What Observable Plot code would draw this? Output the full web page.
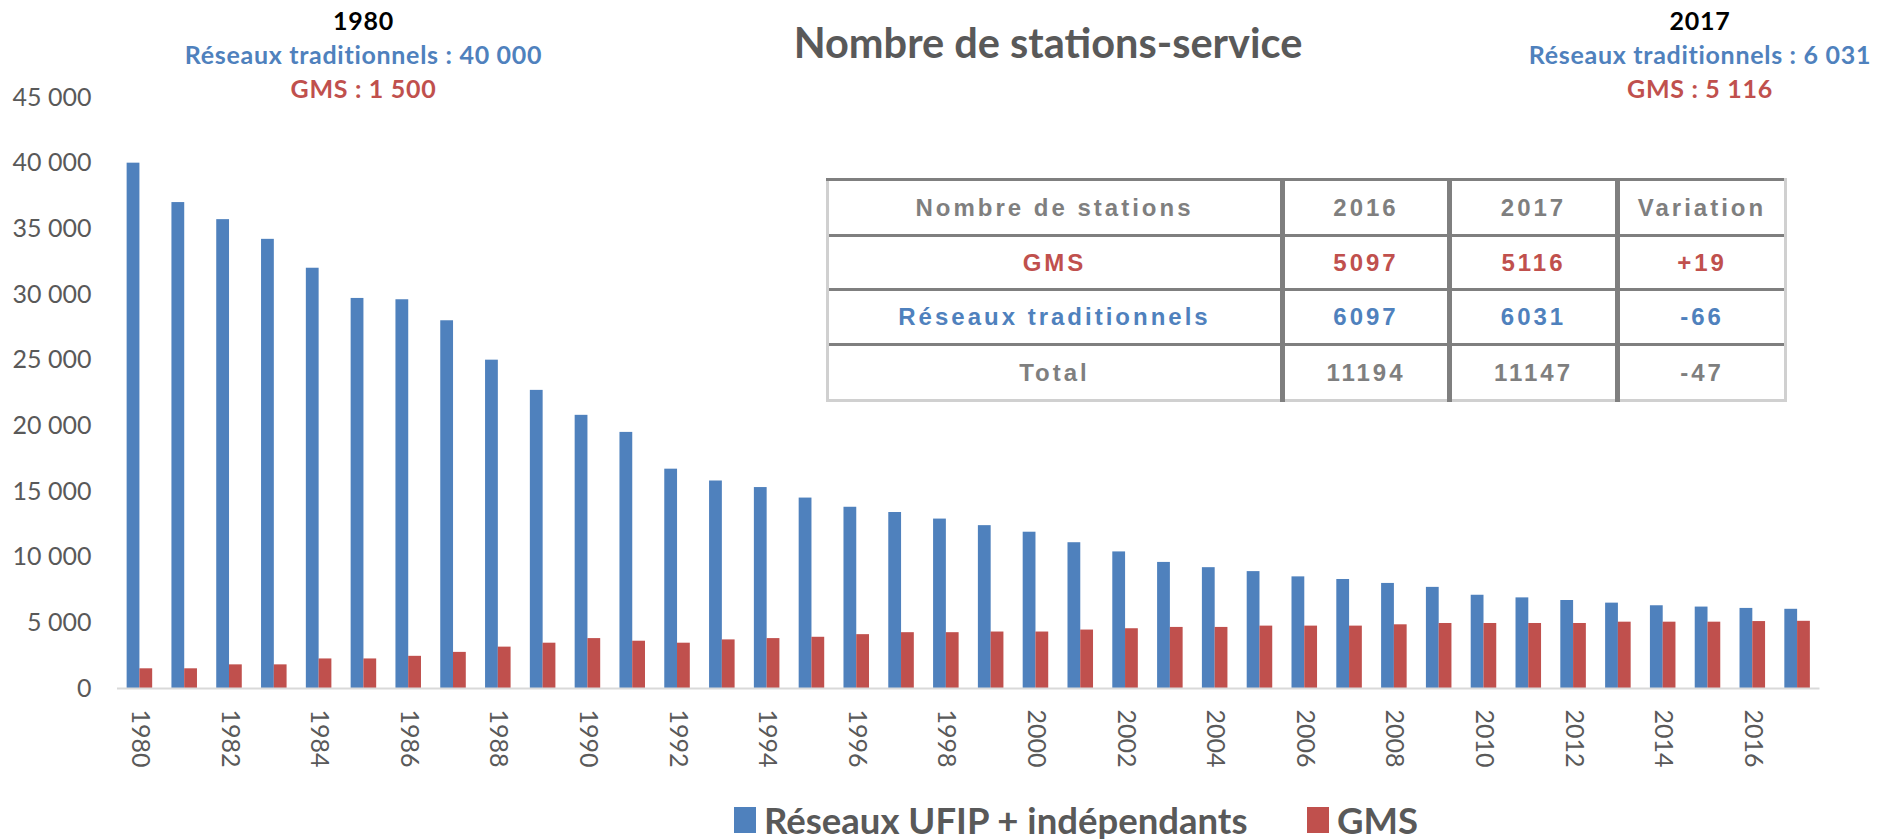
<!DOCTYPE html>
<html lang="fr">
<head>
<meta charset="utf-8">
<script src="https://cdn.jsdelivr.net/npm/d3@7"></script>
<script src="https://cdn.jsdelivr.net/npm/@observablehq/plot@0.6"></script>
<style>
  html, body { margin: 0; padding: 0; background: #fff; overflow: hidden; }
  #wrap { position: relative; width: 1884px; height: 839px; }
  #chart { position: absolute; left: 0; top: 0; }
  .title { position: absolute; left: 648px; top: 18px; width: 800px; text-align: center;
    font-family: Lato, sans-serif; font-weight: 700; font-size: 41.5px; line-height: 48px; color: #595959; }
  .ann { position: absolute; top: 3px; text-align: center; font-family: Lato, sans-serif; font-weight: 700;
    font-size: 25px; letter-spacing: 0.7px; line-height: 34px; white-space: nowrap; }
  .ann .yr { color: #000; }
  .ann .bl { color: #4f81bd; }
  .ann .rd { color: #c0504d; }
  #tbl { position: absolute; left: 826px; top: 178px; width: 958px; height: 221px; border-collapse: collapse;
    table-layout: fixed; font-family: "Liberation Sans", Arial, sans-serif; font-weight: 700; font-size: 24px;
    letter-spacing: 3px; background: #fff; }
  #tbl td { text-align: center; padding: 0; border-left: 5px solid #7f7f7f; border-top: 3px solid #7f7f7f; }
  #tbl tr td:first-child { border-left: 3px solid #d0d0d0; }
  #tbl tr td:last-child { border-right: 3px solid #d0d0d0; }
  #tbl tr:first-child td { border-top: 3px solid #d0d0d0; border-bottom: 6px solid #7f7f7f; }
  #tbl tr:last-child td { border-bottom: 3px solid #d0d0d0; }
  .legend { position: absolute; top: 800px; height: 40px; display: flex; align-items: center;
    font-family: Lato, sans-serif; font-weight: 700; font-size: 36.5px; line-height: 40px; color: #595959; white-space: nowrap; }
  .legend .sw { display: inline-block; width: 22px; height: 26px; margin-right: 8px; }
</style>
</head>
<body>
<div id="wrap">
  <div id="chart"></div>
  <div class="title">Nombre de stations-service</div>
  <div id="annotations"></div>
  <div id="tableHolder"></div>
  <div id="legendHolder"></div>
</div>
<script>
// ---- Data ----
const years = [1980, 1981, 1982, 1983, 1984, 1985, 1986, 1987, 1988, 1989,
               1990, 1991, 1992, 1993, 1994, 1995, 1996, 1997, 1998, 1999,
               2000, 2001, 2002, 2003, 2004, 2005, 2006, 2007, 2008, 2009,
               2010, 2011, 2012, 2013, 2014, 2015, 2016, 2017];
const reseaux = [40000, 37000, 35700, 34200, 32000, 29700, 29600, 28000, 25000, 22700,
                 20800, 19500, 16700, 15800, 15300, 14500, 13800, 13400, 12900, 12400,
                 11900, 11100, 10400, 9600, 9200, 8900, 8500, 8300, 8000, 7700,
                 7100, 6900, 6700, 6500, 6300, 6200, 6097, 6031];
const gms = [1500, 1500, 1800, 1800, 2250, 2250, 2450, 2750, 3150, 3450,
             3800, 3600, 3450, 3700, 3800, 3900, 4100, 4250, 4250, 4300,
             4300, 4450, 4550, 4650, 4650, 4750, 4750, 4750, 4850, 4950,
             4950, 4950, 4950, 5050, 5050, 5050, 5097, 5116];
const xLabelYears = [1980, 1982, 1984, 1986, 1988, 1990, 1992, 1994, 1996, 1998,
                     2000, 2002, 2004, 2006, 2008, 2010, 2012, 2014, 2016];
const yTicks = [0, 5000, 10000, 15000, 20000, 25000, 30000, 35000, 40000, 45000];
const seriesNames = ["Réseaux UFIP + indépendants", "GMS"];
const seriesColors = ["#4f81bd", "#c0504d"];
const annYears = ["1980", "2017"];
const annReseaux = ["Réseaux traditionnels : 40 000", "Réseaux traditionnels : 6 031"];
const annGms = ["GMS : 1 500", "GMS : 5 116"];
const tableHeader = ["Nombre de stations", "2016", "2017", "Variation"];
const tableRowLabels = ["GMS", "Réseaux traditionnels", "Total"];
const table2016 = ["5097", "6097", "11194"];
const table2017 = ["5116", "6031", "11147"];
const tableVariation = ["+19", "-66", "-47"];

// ---- Chart ----
const rows = years.map((year, i) => ({year, reseaux: reseaux[i], gms: gms[i]}));
const fmt = d => d === 0 ? "0" : d3.format(",")(d).replace(/,/g, " ");

const chart = Plot.plot({
  width: 1884,
  height: 839,
  marginTop: 97,
  marginBottom: 151,
  marginLeft: 117,
  marginRight: 64.5,
  style: {fontFamily: "Lato, sans-serif", fontSize: "25px", color: "#595959", background: "transparent", overflow: "visible"},
  x: {domain: years, paddingInner: 0.43, paddingOuter: 0.215, label: null},
  y: {domain: [0, 45000], label: null},
  marks: [
    Plot.barY(rows, {x: "year", y: "reseaux", fill: seriesColors[0], insetRight: 12.75}),
    Plot.barY(rows, {x: "year", y: "gms", fill: seriesColors[1], insetLeft: 12.75}),
    Plot.ruleY([0], {stroke: "#d9d9d9", strokeWidth: 2}),
    Plot.axisX({ticks: xLabelYears, tickFormat: d => String(d), label: null, tickRotate: 90, tickSize: 0, tickPadding: 21, fontSize: 25, fill: "#595959"}),
    Plot.axisY({ticks: yTicks, tickFormat: fmt, label: null, tickSize: 0, tickPadding: 26, fontSize: 25, fill: "#595959"})
  ]
});
document.getElementById("chart").appendChild(chart);

// ---- Annotations ----
const annHolder = document.getElementById("annotations");
const annCenters = [363.5, 1700];
annYears.forEach((y, i) => {
  const d = document.createElement("div");
  d.className = "ann";
  d.style.left = (annCenters[i] - 180) + "px";
  d.style.width = "360px";
  d.innerHTML = `<div class="yr">${y}</div><div class="bl">${annReseaux[i]}</div><div class="rd">${annGms[i]}</div>`;
  annHolder.appendChild(d);
});

// ---- Table ----
const tbl = document.createElement("table");
tbl.id = "tbl";
const cg = document.createElement("colgroup");
[455, 167, 168, 168].forEach(w => { const c = document.createElement("col"); c.style.width = w + "px"; cg.appendChild(c); });
tbl.appendChild(cg);
const rowColors = ["#c0504d", "#4f81bd", "#7f7f7f"];
const rowHeights = [56, 54, 55, 56];
const hr = document.createElement("tr");
hr.style.height = rowHeights[0] + "px";
tableHeader.forEach(t => { const td = document.createElement("td"); td.textContent = t; td.style.color = "#7f7f7f"; hr.appendChild(td); });
tbl.appendChild(hr);
tableRowLabels.forEach((lab, i) => {
  const tr = document.createElement("tr");
  tr.style.height = rowHeights[i + 1] + "px";
  [lab, table2016[i], table2017[i], tableVariation[i]].forEach(t => {
    const td = document.createElement("td"); td.textContent = t; td.style.color = rowColors[i]; tr.appendChild(td);
  });
  tbl.appendChild(tr);
});
document.getElementById("tableHolder").appendChild(tbl);

// ---- Legend ----
const lh = document.getElementById("legendHolder");
const legendLefts = [734, 1307];
seriesNames.forEach((name, i) => {
  const d = document.createElement("div");
  d.className = "legend";
  d.style.left = legendLefts[i] + "px";
  d.innerHTML = `<span class="sw" style="background:${seriesColors[i]}"></span><span>${name}</span>`;
  lh.appendChild(d);
});
</script>
</body>
</html>
